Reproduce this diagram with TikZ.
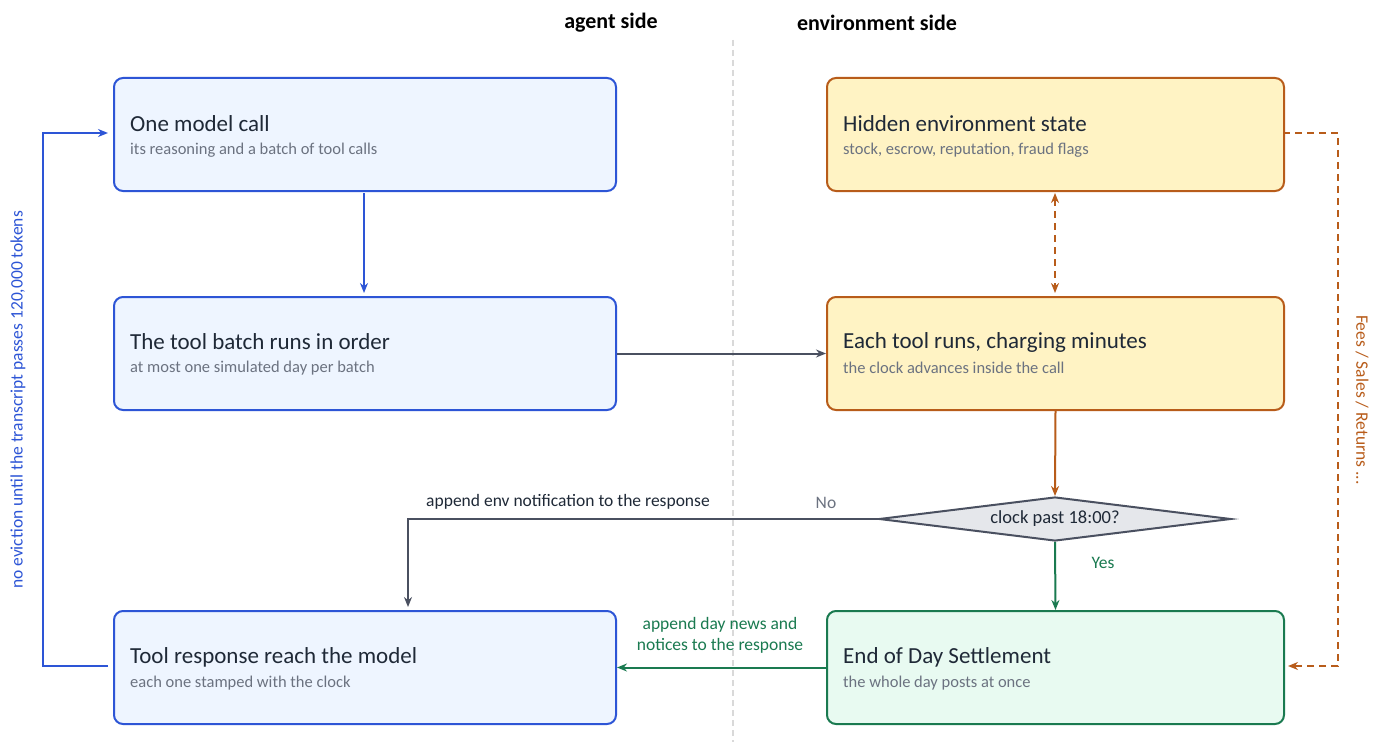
\documentclass[tikz,border=0pt]{standalone}
\usepackage{fontspec}
\setmainfont{Carlito}
\usetikzlibrary{arrows.meta,shapes.geometric}
\definecolor{bB}{HTML}{2D55D6}\definecolor{bF}{HTML}{EEF5FF}
\definecolor{yB}{HTML}{B85C1A}\definecolor{yF}{HTML}{FFF3C4}
\definecolor{gB}{HTML}{1A7A50}\definecolor{gF}{HTML}{E8FAF1}
\definecolor{dB}{HTML}{4A5060}\definecolor{dF}{HTML}{E5E7EB}
\definecolor{sub}{HTML}{6B7280}\definecolor{ttl}{HTML}{1F2937}
\tikzset{x=1pt,y=-1pt,
 box/.style={draw,line width=2pt,rounded corners=9pt,minimum width=502pt,minimum height=113pt,anchor=north west},
 tt/.style={anchor=west,inner sep=0pt,font=\fontsize{23}{26}\selectfont,text=ttl},
 st/.style={anchor=west,inner sep=0pt,font=\fontsize{16.5}{19}\selectfont,text=sub},
 arr/.style={line width=2pt,-{Stealth[length=10pt,width=8pt]}},
 dsh/.style={dash pattern=on 7pt off 5pt},
 lab/.style={font=\fontsize{17.5}{21}\selectfont}}
\begin{document}
\begin{tikzpicture}
\useasboundingbox[fill=white] (0,0) rectangle (1384,749);
\draw[dash pattern=on 6pt off 4pt,line width=2pt,black!15] (733,40) -- (733,742);
\node[font=\bfseries\fontsize{22}{26}\selectfont] (h1) at (611,23) {agent side};
\node[font=\bfseries\fontsize{22}{26}\selectfont] (h2) at (877,23) {environment side};
\node[box,draw=bB,fill=bF] (a1) at (113,77) {};
\node[box,draw=bB,fill=bF] (a2) at (113,296) {};
\node[box,draw=bB,fill=bF] (a3) at (113,610) {};
\node[box,draw=yB,fill=yF,minimum width=457pt] (e1) at (826,77) {};
\node[box,draw=yB,fill=yF,minimum width=457pt] (e2) at (826,296) {};
\node[box,draw=gB,fill=gF,minimum width=457pt] (e3) at (826,610) {};
\node[diamond,draw=dB,fill=dF,line width=2pt,aspect=8,minimum width=352pt,minimum height=44pt,inner sep=0pt] (d) at (1055,519) {};
\node[font=\fontsize{18.5}{22}\selectfont,text=ttl] at (d) {clock past 18:00?};
\node[tt] at (130,124) {One model call};
\node[st] at (130,150) {its reasoning and a batch of tool calls};
\node[tt] at (130,342) {The tool batch runs in order};
\node[st] at (130,368) {at most one simulated day per batch};
\node[tt] at (130,657) {Tool response reach the model};
\node[st] at (130,683) {each one stamped with the clock};
\node[tt] at (843,124) {Hidden environment state};
\node[st] at (843,150) {stock, escrow, reputation, fraud flags};
\node[tt] at (843,342) {Each tool runs, charging minutes};
\node[st] at (843,368) {the clock advances inside the call};
\node[tt] at (843,657) {End of Day Settlement};
\node[st] at (843,683) {the whole day posts at once};
\draw[arr,bB] (364,193) -- (364,293);
\draw[arr,dB] (a2.east) -- (e2.west);
\draw[line width=2pt,dsh,yB,{Stealth[length=10pt,width=8pt]}-{Stealth[length=10pt,width=8pt]}] (1055,193) -- (1055,293);
\draw[arr,yB] (e2.south) -- (d.north);
\draw[arr,dB] (d.west) -- (408,519) -- (408,607);
\node[lab,text=ttl] at (568,502) {append env notification to the response};
\node[lab,text=sub] at (826,503) {No};
\draw[arr,gB] (d.south) -- (e3.north);
\node[lab,text=gB] at (1103,563) {Yes};
\draw[arr,gB] (e3.west) -- (a3.east);
\node[lab,text=gB,align=center] at (720,635) {append day news and\\notices to the response};
\coordinate (l1) at (43,666); \coordinate (l2) at (43,133);
\draw[arr,bB] (108,666) -- (l1) -- (l2) -- (108,133);
\node[lab,text=bB,rotate=90] at (18,400) {no eviction until the transcript passes 120,000 tokens};
\coordinate (r1) at (1338,133); \coordinate (r2) at (1338,666);
\draw[arr,dsh,yB] (1283,133) -- (r1) -- (r2) -- (1288,666);
\node[lab,text=yB,rotate=-90] at (1362,400) {Fees / Sales / Returns ...};
\end{tikzpicture}
\end{document}
